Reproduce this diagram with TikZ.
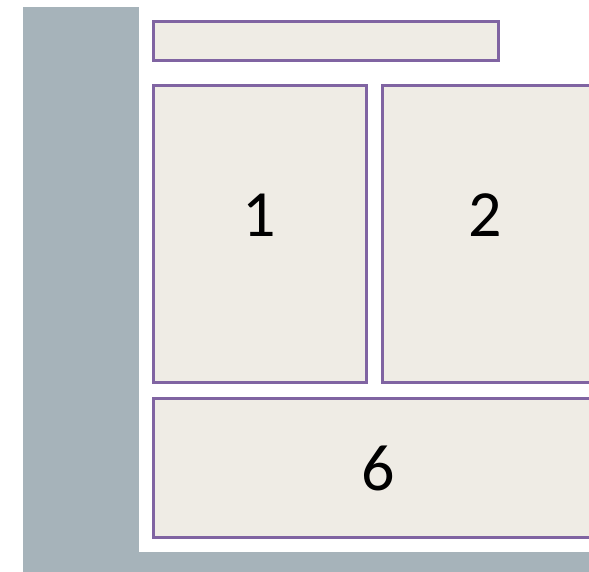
\documentclass[tikz,border=0pt]{standalone}
\usepackage{fontspec}
\setmainfont{Carlito}
\definecolor{bggray}{RGB}{166,179,186}
\definecolor{boxpurple}{RGB}{128,100,162}
\definecolor{boxfill}{RGB}{239,236,229}
\begin{document}
\begin{tikzpicture}[x=1pt,y=-1pt,
  panel/.style={draw=boxpurple,line width=3pt,fill=boxfill},
  digit/.style={font=\fontsize{66}{70}\selectfont,text=black,inner sep=0pt,anchor=center}]
\useasboundingbox (0,0) rectangle (589,572);
\clip (0,0) rectangle (589,572);
\fill[bggray] (23,7) rectangle (589,572);
\fill[white] (139,0) rectangle (589,552);
\draw[panel] (153.5,21.5) rectangle (498.5,60.5);
\draw[panel] (153.5,85.5) rectangle (366.5,382.5);
\draw[panel] (382.5,85.5) rectangle (600,382.5);
\draw[panel] (153.5,398.5) rectangle (610,537.5);
\node[digit] (one) at (259.5,215) {1};
\node[digit] (two) at (485.5,215) {2};
\node[digit] (six) at (378.5,468.5) {6};
\end{tikzpicture}
\end{document}
